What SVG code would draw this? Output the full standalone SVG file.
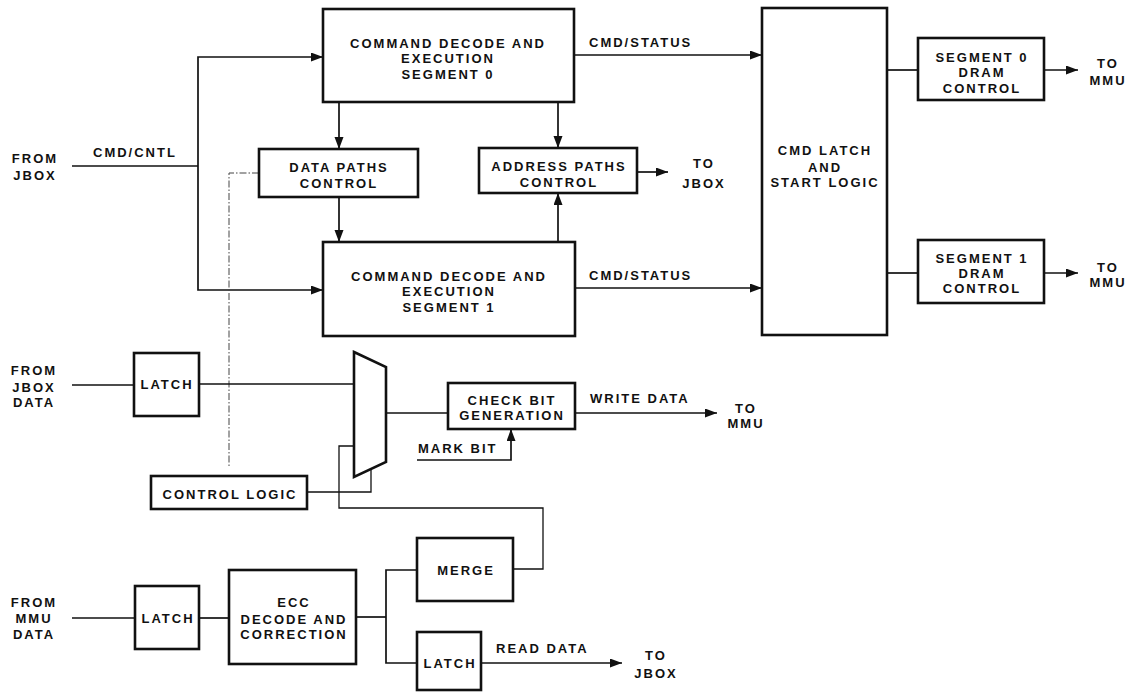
<svg xmlns="http://www.w3.org/2000/svg" width="1139" height="694" viewBox="0 0 1139 694">
<style>
.box{fill:#fff;stroke:#111;stroke-width:2.6}
.ln{fill:none;stroke:#111;stroke-width:1.7}
.thin{fill:none;stroke:#111;stroke-width:1.3}
.dash{fill:none;stroke:#444;stroke-width:1;stroke-dasharray:7,2,1.5,2}
.arr{fill:none;stroke:#111;stroke-width:1.7;marker-end:url(#ah)}
text{font-family:"Liberation Sans",Arial,sans-serif;font-weight:bold;font-size:13px;letter-spacing:2px;fill:#111}
.c{text-anchor:middle}
</style>
<defs>
<marker id="ah" markerUnits="userSpaceOnUse" markerWidth="13" markerHeight="10" refX="12" refY="4.5" orient="auto">
<path d="M0,0 L12,4.5 L0,9 z" fill="#111"/>
</marker>
</defs>

<g id="connectors">
<polyline class="ln" points="72,166 198,166"/>
<polyline class="arr" points="198,166 198,57 323,57"/>
<polyline class="arr" points="198,166 198,290 323,290"/>
<line class="arr" x1="339" y1="102" x2="339" y2="149"/>
<line class="arr" x1="339" y1="197" x2="339" y2="242"/>
<line class="arr" x1="558" y1="102" x2="558" y2="148"/>
<line class="arr" x1="558" y1="242" x2="558" y2="193"/>
<line class="arr" x1="637" y1="172" x2="668" y2="172"/>
<line class="arr" x1="574" y1="55" x2="762" y2="55"/>
<line class="arr" x1="575" y1="288" x2="762" y2="288"/>
<line class="ln" x1="887" y1="70" x2="918" y2="70"/>
<line class="ln" x1="887" y1="273" x2="918" y2="273"/>
<line class="arr" x1="1044" y1="70" x2="1078" y2="70"/>
<line class="arr" x1="1044" y1="273" x2="1078" y2="273"/>
<polyline class="dash" points="259,173 229,173 229,467"/>
<line class="ln" x1="72" y1="385" x2="134" y2="385"/>
<line class="ln" x1="199" y1="384" x2="354" y2="384"/>
<line class="ln" x1="386" y1="413" x2="448" y2="413"/>
<line class="arr" x1="575" y1="413" x2="717" y2="413"/>
<polyline class="arr" points="417,460 511,460 511,429"/>
<polyline class="thin" points="307,492 371,492 371,469"/>
<polyline class="thin" points="354,446 339,446 339,508 543,508 543,569 513,569"/>
<line class="ln" x1="72" y1="618" x2="135" y2="618"/>
<line class="ln" x1="199" y1="618" x2="229" y2="618"/>
<line class="ln" x1="356" y1="617" x2="386" y2="617"/>
<polyline class="ln" points="417,570 386,570 386,663 417,663"/>
<line class="arr" x1="481" y1="663" x2="622" y2="663"/>
</g>

<g id="seg0">
<rect class="box" x="323" y="9" width="251" height="93"/>
<text class="c" x="448" y="48">COMMAND DECODE AND</text>
<text class="c" x="448" y="63">EXECUTION</text>
<text class="c" x="448" y="79">SEGMENT 0</text>
</g>
<g id="seg1">
<rect class="box" x="323" y="242" width="252" height="94"/>
<text class="c" x="449" y="281">COMMAND DECODE AND</text>
<text class="c" x="449" y="296">EXECUTION</text>
<text class="c" x="449" y="312">SEGMENT 1</text>
</g>
<g id="dpc">
<rect class="box" x="259" y="149" width="159" height="48"/>
<text class="c" x="339" y="172">DATA PATHS</text>
<text class="c" x="339" y="188">CONTROL</text>
</g>
<g id="apc">
<rect class="box" x="479" y="148" width="158" height="45"/>
<text class="c" x="559" y="171">ADDRESS PATHS</text>
<text class="c" x="559" y="187">CONTROL</text>
</g>
<g id="cmdlatch">
<rect class="box" x="762" y="8" width="125" height="327"/>
<text class="c" x="825" y="155">CMD LATCH</text>
<text class="c" x="825" y="172">AND</text>
<text class="c" x="825" y="187">START LOGIC</text>
</g>
<g id="dram0">
<rect class="box" x="918" y="38" width="126" height="62"/>
<text class="c" x="982" y="62">SEGMENT 0</text>
<text class="c" x="982" y="77">DRAM</text>
<text class="c" x="982" y="93">CONTROL</text>
</g>
<g id="dram1">
<rect class="box" x="918" y="240" width="126" height="63"/>
<text class="c" x="982" y="263">SEGMENT 1</text>
<text class="c" x="982" y="278">DRAM</text>
<text class="c" x="982" y="293">CONTROL</text>
</g>
<g id="latch-in">
<rect class="box" x="134" y="353" width="65" height="63"/>
<text class="c" x="167" y="389">LATCH</text>
</g>
<g id="mux">
<polygon class="box" points="354,352 386,367 386,462 354,477"/>
</g>
<g id="checkbit">
<rect class="box" x="448" y="383" width="127" height="46"/>
<text class="c" x="512" y="405">CHECK BIT</text>
<text class="c" x="512" y="420">GENERATION</text>
</g>
<g id="controllogic">
<rect class="box" x="151" y="476" width="156" height="33"/>
<text class="c" x="230" y="499">CONTROL LOGIC</text>
</g>
<g id="merge">
<rect class="box" x="417" y="538" width="96" height="63"/>
<text class="c" x="466" y="575">MERGE</text>
</g>
<g id="latch-mmu">
<rect class="box" x="135" y="586" width="64" height="63"/>
<text class="c" x="168" y="623">LATCH</text>
</g>
<g id="ecc">
<rect class="box" x="229" y="570" width="127" height="94"/>
<text class="c" x="294" y="607">ECC</text>
<text class="c" x="294" y="624">DECODE AND</text>
<text class="c" x="294" y="639">CORRECTION</text>
</g>
<g id="latch-out">
<rect class="box" x="417" y="632" width="64" height="58"/>
<text class="c" x="450" y="668">LATCH</text>
</g>

<g id="labels">
<text class="c" x="35" y="163">FROM</text>
<text class="c" x="35" y="180">JBOX</text>
<text x="93" y="157">CMD/CNTL</text>
<text x="589" y="47">CMD/STATUS</text>
<text x="589" y="280">CMD/STATUS</text>
<text class="c" x="704" y="168">TO</text>
<text class="c" x="704" y="188">JBOX</text>
<text class="c" x="1108" y="68">TO</text>
<text class="c" x="1108" y="85">MMU</text>
<text class="c" x="1108" y="272">TO</text>
<text class="c" x="1108" y="287">MMU</text>
<text class="c" x="34" y="375">FROM</text>
<text class="c" x="34" y="392">JBOX</text>
<text class="c" x="34" y="407">DATA</text>
<text x="590" y="403">WRITE DATA</text>
<text class="c" x="746" y="413">TO</text>
<text class="c" x="746" y="428">MMU</text>
<text x="418" y="453">MARK BIT</text>
<text class="c" x="34" y="607">FROM</text>
<text class="c" x="34" y="623">MMU</text>
<text class="c" x="34" y="639">DATA</text>
<text x="496" y="653">READ DATA</text>
<text class="c" x="656" y="660">TO</text>
<text class="c" x="656" y="678">JBOX</text>
</g>
</svg>
